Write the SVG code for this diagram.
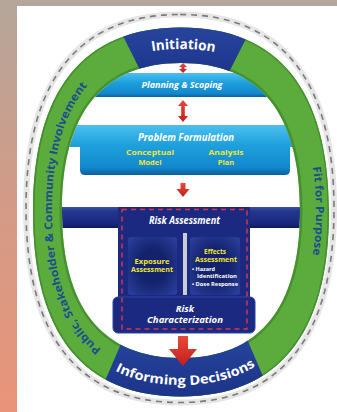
<svg xmlns="http://www.w3.org/2000/svg" width="337" height="412" viewBox="0 0 337 412">
<defs>
<linearGradient id="bgLeft" x1="0" y1="0" x2="0" y2="1">
<stop offset="0" stop-color="#b5a69b"/>
<stop offset="0.5" stop-color="#d39b87"/>
<stop offset="1" stop-color="#e9947a"/>
</linearGradient>
<linearGradient id="lightBlue" x1="0" y1="0" x2="0" y2="1">
<stop offset="0" stop-color="#4cc0ef"/>
<stop offset="0.4" stop-color="#1ea0dd"/>
<stop offset="0.85" stop-color="#1388cc"/>
<stop offset="1" stop-color="#0b5f9e"/>
</linearGradient>
<linearGradient id="navy" x1="0" y1="0" x2="0" y2="1">
<stop offset="0" stop-color="#3a4fa6"/>
<stop offset="0.2" stop-color="#23368e"/>
<stop offset="0.8" stop-color="#18277c"/>
<stop offset="1" stop-color="#0e195a"/>
</linearGradient>
<radialGradient id="innerBox" cx="0.5" cy="0.5" r="0.7">
<stop offset="0.4" stop-color="#14226c"/>
<stop offset="1" stop-color="#2c41a0"/>
</radialGradient>
<linearGradient id="redArrow" x1="0" y1="0" x2="0" y2="1">
<stop offset="0" stop-color="#e84a3a"/>
<stop offset="1" stop-color="#c41d1d"/>
</linearGradient>
<linearGradient id="blueSeg" x1="0" y1="0" x2="0" y2="1">
<stop offset="0" stop-color="#2a48a2"/>
<stop offset="1" stop-color="#1b3388"/>
</linearGradient>
<clipPath id="innerClip">
<path d="M181,63 C259.54,63 300,113.15 300,210.5 C300,307.85 259.54,358 181,358 C102.46,358 62,307.85 62,210.5 C62,113.15 102.46,63 181,63Z"/>
</clipPath>
<clipPath id="ringClip">
<path clip-rule="evenodd" d="M181,27.5 C278.68,27.5 329,90.23 329,212 C329,333.77 278.68,396.5 181,396.5 C83.32,396.5 33,333.77 33,212 C33,90.23 83.32,27.5 181,27.5Z M181,63 C259.54,63 300,113.15 300,210.5 C300,307.85 259.54,358 181,358 C102.46,358 62,307.85 62,210.5 C62,113.15 102.46,63 181,63Z"/>
</clipPath>
<path id="tp-init" d="M48,212 C48,104.4 93.2,49 181,49 C268.8,49 314,104.4 314,212"/>
<path id="tp-inform" d="M45,212 C45,326.2 91.2,385 181,385 C270.8,385 317,326.2 317,212"/>
<path id="tp-left" d="M181,374 C95.9,374 52,318.6 52,211 C52,103.4 95.9,48 181,48"/>
<path id="tp-right" d="M181,48 C266,48 316,103 316,211 C316,319 266,374 181,374"/>
</defs>
<style>
.bartext{font-family:"Open Sans","Liberation Sans",sans-serif;font-weight:bold;font-style:italic;fill:#ffffff;text-anchor:middle}
.yel{font-family:"Open Sans","Liberation Sans",sans-serif;font-weight:bold;fill:#f0e635;text-anchor:middle}
.small{font-family:"Open Sans","Liberation Sans",sans-serif;font-weight:bold;fill:#ffffff}
.ringtext{font-family:"Open Sans","Liberation Sans",sans-serif;font-weight:bold;fill:#ffffff}
.greentext{font-family:"Open Sans","Liberation Sans",sans-serif;font-weight:bold;fill:#1d4d8f}
.arrow{fill:url(#redArrow)}
</style>

<!-- background -->
<rect x="0" y="0" width="337" height="412" fill="#ffffff"/>
<rect x="0" y="0" width="337" height="6" fill="#b5a69b"/>
<rect x="0" y="0" width="17" height="412" fill="url(#bgLeft)"/>

<!-- dashed outline -->
<g id="outline">
<path d="M180,14.5 C281.64,14.5 334,80.46 334,208.5 C334,336.54 281.64,402.5 180,402.5 C78.36,402.5 26,336.54 26,208.5 C26,80.46 78.36,14.5 180,14.5Z" fill="none" stroke="#e6e6e6" stroke-width="6"/>
<path d="M180,14.5 C281.64,14.5 334,80.46 334,208.5 C334,336.54 281.64,402.5 180,402.5 C78.36,402.5 26,336.54 26,208.5 C26,80.46 78.36,14.5 180,14.5Z" fill="none" stroke="#7a7a7a" stroke-width="1.6" stroke-dasharray="6 5"/>
</g>

<!-- inner bars -->
<g clip-path="url(#innerClip)">
<g id="planning">
<rect x="40" y="73" width="290" height="24" fill="url(#lightBlue)"/>
<text class="bartext" x="182" y="87.5" font-size="9.5" textLength="81" lengthAdjust="spacingAndGlyphs">Planning &amp; Scoping</text>
</g>
<g id="problem-formulation">
<path d="M40,125 H330 V147 H290 V170 Q290,175 285,175 H85 Q80,175 80,170 V147 H40 Z" fill="url(#lightBlue)"/>
<text class="bartext" x="186" y="141" font-size="10" textLength="96" lengthAdjust="spacingAndGlyphs">Problem Formulation</text>
<text class="yel" x="150" y="155" font-size="7.5" textLength="48" lengthAdjust="spacingAndGlyphs">Conceptual</text>
<text class="yel" x="150" y="164.5" font-size="7.5">Model</text>
<text class="yel" x="226" y="155" font-size="7.5" textLength="35" lengthAdjust="spacingAndGlyphs">Analysis</text>
<text class="yel" x="226" y="164.5" font-size="7.5">Plan</text>
</g>
<g id="risk-assessment">
<rect x="40" y="207" width="290" height="21" fill="url(#navy)"/>
<rect x="118" y="207" width="132" height="100" fill="#1b2a80"/>
<rect x="113" y="297" width="142" height="36" rx="5" fill="#1b2a80" stroke="#2d42a0" stroke-width="1"/>
<rect x="122" y="209.5" width="125" height="119.5" fill="none" stroke="#d8344a" stroke-width="1.5" stroke-dasharray="5 4"/>
<text class="bartext" x="184.5" y="224" font-size="10" textLength="71" lengthAdjust="spacingAndGlyphs">Risk Assessment</text>
<rect x="183" y="233" width="4" height="62" fill="#c9cdd6"/>
</g>
<g id="exposure">
<rect x="128" y="237" width="49" height="58" rx="3" fill="url(#innerBox)"/>
<text class="yel" x="152" y="263.5" font-size="6.5" textLength="35" lengthAdjust="spacingAndGlyphs">Exposure</text>
<text class="yel" x="152" y="271.5" font-size="6.5" textLength="42" lengthAdjust="spacingAndGlyphs">Assessment</text>
</g>
<g id="effects">
<rect x="190" y="237" width="50" height="58" rx="3" fill="url(#innerBox)"/>
<text class="yel" x="215" y="254" font-size="6.5">Effects</text>
<text class="yel" x="216" y="262" font-size="6.5" textLength="42" lengthAdjust="spacingAndGlyphs">Assessment</text>
<text class="small" x="192" y="270.5" font-size="5.5">• Hazard</text>
<text class="small" x="197" y="278" font-size="5.5" textLength="40" lengthAdjust="spacingAndGlyphs">Identification</text>
<text class="small" x="192" y="285.5" font-size="5.5" textLength="46" lengthAdjust="spacingAndGlyphs">• Dose Response</text>
</g>
<g id="risk-characterization">
<text class="bartext" x="185" y="311.5" font-size="9.5">Risk</text>
<text class="bartext" x="185" y="323" font-size="9.5" textLength="76" lengthAdjust="spacingAndGlyphs">Characterization</text>
</g>
</g>

<!-- ring -->
<g id="ring">
<path fill-rule="evenodd" fill="#5bac3d" d="M181,27.5 C278.68,27.5 329,90.23 329,212 C329,333.77 278.68,396.5 181,396.5 C83.32,396.5 33,333.77 33,212 C33,90.23 83.32,27.5 181,27.5Z M181,63 C259.54,63 300,113.15 300,210.5 C300,307.85 259.54,358 181,358 C102.46,358 62,307.85 62,210.5 C62,113.15 102.46,63 181,63Z"/>
<g clip-path="url(#ringClip)">
<path d="M181,63 C259.54,63 300,113.15 300,210.5 C300,307.85 259.54,358 181,358 C102.46,358 62,307.85 62,210.5 C62,113.15 102.46,63 181,63Z" fill="none" stroke="#3d8629" stroke-width="5" opacity="0.7"/>
<path d="M181,27.5 C278.68,27.5 329,90.23 329,212 C329,333.77 278.68,396.5 181,396.5 C83.32,396.5 33,333.77 33,212 C33,90.23 83.32,27.5 181,27.5Z" fill="none" stroke="#44902f" stroke-width="3"/>
</g>
<text class="greentext" font-size="11"><textPath href="#tp-left" startOffset="48%" text-anchor="middle" textLength="285" lengthAdjust="spacingAndGlyphs">Public, Stakeholder &amp; Community Involvement</textPath></text>
<text class="greentext" font-size="11"><textPath href="#tp-right" startOffset="50%" text-anchor="middle" textLength="88" lengthAdjust="spacingAndGlyphs">Fit for Purpose</textPath></text>
</g>

<g id="initiation">
<g clip-path="url(#ringClip)">
<polygon points="112,14 146,82 224,82 257,17" fill="url(#blueSeg)"/>
</g>
<text class="ringtext" font-size="14"><textPath href="#tp-init" startOffset="50.5%" text-anchor="middle" textLength="63" lengthAdjust="spacingAndGlyphs">Initiation</textPath></text>
</g>

<g id="informing-decisions">
<g clip-path="url(#ringClip)">
<polygon points="132,318 238,318 274,402 96,402" fill="url(#blueSeg)"/>
</g>
<text class="ringtext" font-size="13"><textPath href="#tp-inform" startOffset="51%" text-anchor="middle" textLength="146" lengthAdjust="spacingAndGlyphs">Informing Decisions</textPath></text>
</g>

<!-- connectors -->
<g id="connectors">
<path class="arrow" d="M183,63 L187,67 L184.5,67 L184.5,69 L187,69 L183,73 L179,69 L181.5,69 L181.5,67 L179,67 Z"/>
<path class="arrow" d="M183,100 L188,106 L184.8,106 L184.8,116 L188,116 L183,122 L178,116 L181.2,116 L181.2,106 L178,106 Z"/>
<path class="arrow" d="M180.5,183 H185.5 V189 H189.5 L183,197 L176.5,189 H180.5 Z"/>
<path class="arrow" d="M178,336 H188 V349 H197 L183,366 L169,349 H178 Z"/>
</g>
</svg>
